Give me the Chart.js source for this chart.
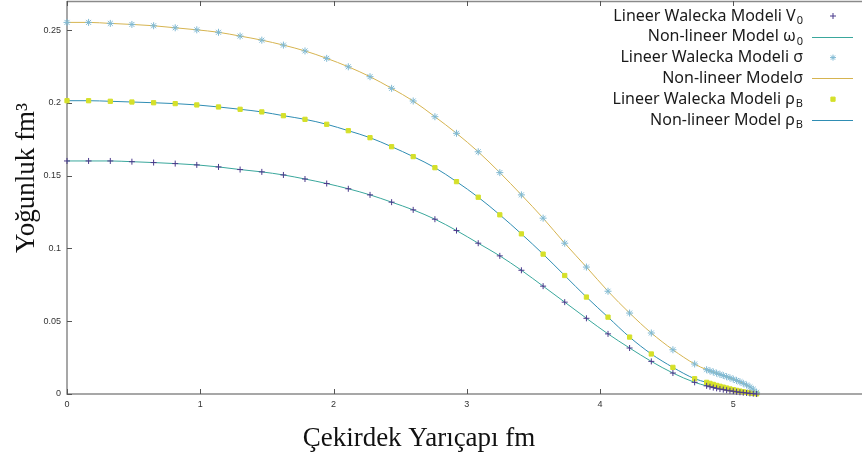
<!DOCTYPE html>
<html>
<head>
<meta charset="utf-8">
<script src="https://cdn.jsdelivr.net/npm/chart.js@4.4.1/dist/chart.umd.min.js"></script>
<style>
  html, body { margin: 0; padding: 0; background: #fff; }
  #wrap { width: 862px; height: 454px; }
</style>
</head>
<body>
<div id="wrap"><canvas id="density"></canvas></div>
<script>
// radius (fm) of each computed point; the last group is the fine step near the surface
const radius = [
    0.000, 0.162, 0.325, 0.487, 0.650, 0.812, 0.974, 1.137, 1.299, 1.462,
    1.624, 1.786, 1.949, 2.111, 2.274, 2.436, 2.598, 2.761, 2.923, 3.086,
    3.248, 3.410, 3.573, 3.735, 3.898, 4.060, 4.222, 4.385, 4.547, 4.710,
    4.800, 4.825, 4.850, 4.875, 4.900, 4.925, 4.950, 4.975, 5.000, 5.025,
    5.050, 5.075, 5.100, 5.125, 5.150, 5.175
];

const sigmaDensity = [
    0.2553, 0.2553, 0.2546, 0.2539, 0.2530, 0.2516, 0.2502, 0.2485, 0.2459, 0.2431,
    0.2397, 0.2357, 0.2306, 0.2248, 0.2180, 0.2100, 0.2013, 0.1905, 0.1791, 0.1664,
    0.1521, 0.1368, 0.1208, 0.1036, 0.0872, 0.0706, 0.0556, 0.0419, 0.0304, 0.0206,
    0.0167, 0.0159, 0.0151, 0.0143, 0.0135, 0.0127, 0.0119, 0.0111, 0.0102, 0.0093,
    0.0084, 0.0073, 0.0062, 0.0049, 0.0033, 0.0012
];

const rhoBDensity = [
    0.2015, 0.2015, 0.2011, 0.2006, 0.2001, 0.1995, 0.1986, 0.1972, 0.1956, 0.1938,
    0.1912, 0.1887, 0.1853, 0.1809, 0.1761, 0.1699, 0.1631, 0.1555, 0.1459, 0.1352,
    0.1231, 0.1100, 0.0961, 0.0814, 0.0666, 0.0528, 0.0391, 0.0275, 0.0183, 0.0105,
    0.0080, 0.0073, 0.0066, 0.0059, 0.0053, 0.0047, 0.0041, 0.0035, 0.0030, 0.0025,
    0.0020, 0.0015, 0.0011, 0.0007, 0.0004, 0.0001
];

const v0Density = [
    0.1601, 0.1601, 0.1601, 0.1596, 0.1590, 0.1583, 0.1574, 0.1560, 0.1542, 0.1526,
    0.1505, 0.1477, 0.1446, 0.1410, 0.1368, 0.1318, 0.1265, 0.1201, 0.1123, 0.1036,
    0.0949, 0.0850, 0.0741, 0.0631, 0.0520, 0.0413, 0.0316, 0.0224, 0.0144, 0.0080,
    0.0056, 0.0050, 0.0044, 0.0039, 0.0034, 0.0030, 0.0026, 0.0022, 0.0019, 0.0015,
    0.0012, 0.0009, 0.0007, 0.0004, 0.0002, 0.0000
];

const xTicks = [0, 1, 2, 3, 4, 5];
const yTicks = [0, 0.05, 0.1, 0.15, 0.2, 0.25];

const toPoints = (ys) => radius.map((r, i) => ({ x: r, y: ys[i] }));

// colours
const axisGray = '#8a8a8a';
const purple = '#4b3a8c';
const skyBlue = '#7fb9d3';
const yellow = '#d5e02a';
const tealLine = '#3aa79c';
const goldLine = '#d6b450';
const blueLine = '#2f8db3';

// legend rows: [text, subscript, kind, colour, pointStyle]
const legendRows = [
    ['Lineer Walecka Modeli V', '0', 'point', purple, 'cross'],
    ['Non-lineer Model \u03c9', '0', 'line', tealLine],
    ['Lineer Walecka Modeli \u03c3', '', 'point', skyBlue, 'star'],
    ['Non-lineer Model\u03c3', '', 'line', goldLine],
    ['Lineer Walecka Modeli \u03c1', 'B', 'point', yellow, 'rect'],
    ['Non-lineer Model \u03c1', 'B', 'line', blueLine]
];

// axes in the gnuplot manner: thin frame, ticks pointing inwards
const framePlugin = {
    id: 'frame',
    beforeDatasetsDraw(chart) {
        const { ctx, chartArea: a, scales: { x, y } } = chart;
        ctx.save();
        ctx.strokeStyle = axisGray;
        ctx.lineWidth = 1.5;
        ctx.beginPath();
        ctx.moveTo(a.left, a.top + 0.5);
        ctx.lineTo(a.right, a.top + 0.5);
        ctx.moveTo(a.left, a.top);
        ctx.lineTo(a.left, a.bottom);
        ctx.lineTo(a.right, a.bottom);
        ctx.stroke();

        ctx.lineWidth = 1;
        ctx.strokeStyle = '#555';
        ctx.beginPath();
        xTicks.forEach(v => {
            const px = Math.round(x.getPixelForValue(v)) + 0.5;
            ctx.moveTo(px, a.bottom);
            ctx.lineTo(px, a.bottom - 5);
            ctx.moveTo(px, a.top);
            ctx.lineTo(px, a.top + 5);
        });
        yTicks.forEach(v => {
            const py = Math.round(y.getPixelForValue(v)) + 0.5;
            ctx.moveTo(a.left, py);
            ctx.lineTo(a.left + 5, py);
        });
        ctx.stroke();

        ctx.fillStyle = '#333';
        ctx.font = '9px "Liberation Sans"';
        ctx.textAlign = 'center';
        ctx.textBaseline = 'middle';
        xTicks.forEach(v => ctx.fillText(String(v), x.getPixelForValue(v), a.bottom + 11));
        ctx.textAlign = 'right';
        yTicks.forEach(v => ctx.fillText(String(v), a.left - 6, y.getPixelForValue(v)));

        // axis titles
        ctx.fillStyle = '#111';
        ctx.font = '27px "Liberation Serif"';
        ctx.textAlign = 'center';
        ctx.textBaseline = 'alphabetic';
        ctx.fillText('\u00c7ekirdek Yar\u0131\u00e7ap\u0131 fm', 419, 446);
        ctx.translate(34, 178);
        ctx.rotate(-Math.PI / 2);
        ctx.fillText('Yo\u011funluk fm\u00b3', 0, 0);
        ctx.restore();
    },
    afterDraw(chart) {
        const { ctx } = chart;
        ctx.save();
        ctx.textBaseline = 'middle';
        const textRight = 803;
        legendRows.forEach((row, i) => {
            const cy = 16 + i * 20.8;
            const [label, sub, kind, colour, style] = row;
            ctx.font = '16px "Noto Sans"';
            const w1 = ctx.measureText(label).width;
            ctx.font = '11px "Noto Sans"';
            const w2 = sub ? ctx.measureText(sub).width + 1 : 0;
            const start = textRight - w1 - w2;
            ctx.fillStyle = '#1a1a1a';
            ctx.font = '16px "Noto Sans"';
            ctx.textAlign = 'left';
            ctx.fillText(label, start, cy);
            if (sub) {
                ctx.font = '11px "Noto Sans"';
                ctx.fillText(sub, start + w1 + 1, cy + 5);
            }
            if (kind === 'line') {
                ctx.strokeStyle = colour;
                ctx.lineWidth = 1;
                ctx.beginPath();
                ctx.moveTo(812, Math.round(cy) + 0.5);
                ctx.lineTo(853, Math.round(cy) + 0.5);
                ctx.stroke();
            } else {
                ctx.fillStyle = colour;
                ctx.strokeStyle = colour;
                ctx.lineWidth = 1;
                Chart.helpers.drawPoint(ctx, { pointStyle: style, radius: 3, borderWidth: 1 }, 833, cy);
            }
        });
        ctx.restore();
    }
};

const lineSet = (label, ys, colour) => ({
    label,
    data: toPoints(ys),
    showLine: true,
    borderColor: colour,
    borderWidth: 1,
    pointRadius: 0,
    cubicInterpolationMode: 'monotone',
    clip: false,
    order: 2
});

const pointSet = (label, ys, colour, style, size) => ({
    label,
    data: toPoints(ys),
    showLine: false,
    pointStyle: style,
    pointRadius: size,
    pointBorderWidth: 1,
    borderColor: colour,
    backgroundColor: colour,
    clip: false,
    order: 1
});

const ctx = document.getElementById('density').getContext('2d');
new Chart(ctx, {
    type: 'scatter',
    data: {
        datasets: [
            pointSet('Lineer Walecka Modeli V0', v0Density, purple, 'cross', 3),
            lineSet('Non-lineer Model \u03c90', v0Density, tealLine),
            pointSet('Lineer Walecka Modeli \u03c3', sigmaDensity, skyBlue, 'star', 3.5),
            lineSet('Non-lineer Model\u03c3', sigmaDensity, goldLine),
            pointSet('Lineer Walecka Modeli \u03c1B', rhoBDensity, yellow, 'rect', 3),
            lineSet('Non-lineer Model \u03c1B', rhoBDensity, blueLine)
        ]
    },
    options: {
        responsive: true,
        maintainAspectRatio: false,
        animation: false,
        layout: { padding: { top: 1, right: 0, bottom: 0, left: 0 }, autoPadding: false },
        plugins: {
            legend: { display: false },
            tooltip: { enabled: false }
        },
        scales: {
            x: {
                type: 'linear',
                min: 0,
                max: 5.966,
                grid: { display: false, drawTicks: false },
                border: { display: false },
                ticks: { display: false, stepSize: 1 },
                afterFit: (scale) => { scale.height = 60; }
            },
            y: {
                type: 'linear',
                min: 0,
                max: 0.27,
                grid: { display: false, drawTicks: false },
                border: { display: false },
                ticks: { display: false, stepSize: 0.05 },
                afterFit: (scale) => { scale.width = 67; }
            }
        }
    },
    plugins: [framePlugin]
});
</script>
</body>
</html>
